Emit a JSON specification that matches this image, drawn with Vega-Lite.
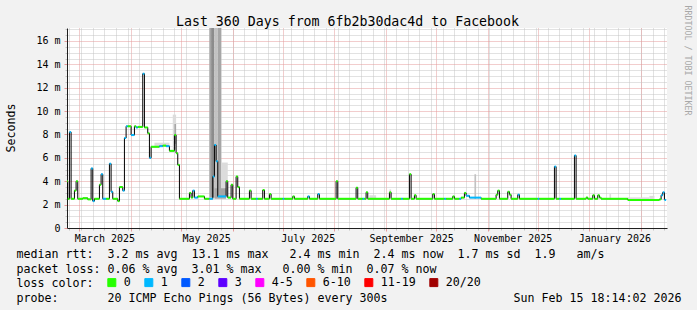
{
  "$schema": "https://vega.github.io/schema/vega-lite/v6.json",
  "width": 600,
  "height": 200,
  "autosize": {"type": "none"},
  "padding": {"left": 67, "top": 28, "right": 30, "bottom": 82},
  "background": "#f2f2f2",
  "title": {
    "text": "Last 360 Days from 6fb2b30dac4d to Facebook",
    "font": "DejaVu Sans Mono",
    "fontSize": 13.25,
    "fontWeight": "normal",
    "color": "#000000",
    "anchor": "middle",
    "frame": "group",
    "dx": -19.5,
    "dy": 17.5,
    "offset": -16.5,
    "baseline": "alphabetic"
  },
  "config": {
    "font": "DejaVu Sans Mono",
    "view": {"stroke": null, "fill": "#ffffff"}
  },
  "datasets": {
    "rtt": [
      {"t": "2025-02-21", "e": "2025-02-22", "v": 4.0, "l": "0"},
      {"t": "2025-02-22", "e": "2025-02-23", "v": 2.5, "l": "0"},
      {"t": "2025-02-23", "e": "2025-02-24", "v": 8.2, "l": "1"},
      {"t": "2025-02-24", "e": "2025-02-26", "v": 2.5, "l": "0"},
      {"t": "2025-02-26", "e": "2025-02-27", "v": 3.2, "l": "0"},
      {"t": "2025-02-27", "e": "2025-02-28", "v": 4.0, "l": "0"},
      {"t": "2025-02-28", "e": "2025-03-03", "v": 2.5, "l": "0"},
      {"t": "2025-03-03", "e": "2025-03-06", "v": 2.55, "l": "0"},
      {"t": "2025-03-06", "e": "2025-03-08", "v": 2.45, "l": "0"},
      {"t": "2025-03-08", "e": "2025-03-09", "v": 5.1, "l": "1"},
      {"t": "2025-03-09", "e": "2025-03-10", "v": 2.3, "l": "1"},
      {"t": "2025-03-10", "e": "2025-03-13", "v": 2.5, "l": "0"},
      {"t": "2025-03-13", "e": "2025-03-14", "v": 3.7, "l": "0"},
      {"t": "2025-03-14", "e": "2025-03-15", "v": 4.6, "l": "1"},
      {"t": "2025-03-15", "e": "2025-03-17", "v": 2.5, "l": "1"},
      {"t": "2025-03-17", "e": "2025-03-19", "v": 2.5, "l": "0"},
      {"t": "2025-03-19", "e": "2025-03-20", "v": 5.5, "l": "1"},
      {"t": "2025-03-20", "e": "2025-03-21", "v": 3.1, "l": "1"},
      {"t": "2025-03-21", "e": "2025-03-24", "v": 2.5, "l": "0"},
      {"t": "2025-03-24", "e": "2025-03-25", "v": 2.3, "l": "0"},
      {"t": "2025-03-25", "e": "2025-03-27", "v": 3.5, "l": "0"},
      {"t": "2025-03-27", "e": "2025-03-28", "v": 3.2, "l": "1"},
      {"t": "2025-03-28", "e": "2025-03-29", "v": 7.7, "l": "1"},
      {"t": "2025-03-29", "e": "2025-03-30", "v": 8.7, "l": "1"},
      {"t": "2025-03-30", "e": "2025-04-01", "v": 8.7, "l": "0"},
      {"t": "2025-04-01", "e": "2025-04-03", "v": 7.95, "l": "1"},
      {"t": "2025-04-03", "e": "2025-04-04", "v": 8.7, "l": "0"},
      {"t": "2025-04-04", "e": "2025-04-05", "v": 8.6, "l": "1"},
      {"t": "2025-04-05", "e": "2025-04-08", "v": 8.65, "l": "0"},
      {"t": "2025-04-08", "e": "2025-04-09", "v": 13.2, "l": "1"},
      {"t": "2025-04-09", "e": "2025-04-11", "v": 8.6, "l": "0"},
      {"t": "2025-04-11", "e": "2025-04-12", "v": 8.1, "l": "0"},
      {"t": "2025-04-12", "e": "2025-04-13", "v": 6.0, "l": "1"},
      {"t": "2025-04-13", "e": "2025-04-18", "v": 6.95, "l": "0"},
      {"t": "2025-04-18", "e": "2025-04-20", "v": 7.0, "l": "1"},
      {"t": "2025-04-20", "e": "2025-04-22", "v": 7.05, "l": "0"},
      {"t": "2025-04-22", "e": "2025-04-24", "v": 7.0, "l": "1"},
      {"t": "2025-04-24", "e": "2025-04-27", "v": 6.6, "l": "0"},
      {"t": "2025-04-27", "e": "2025-04-28", "v": 7.95, "l": "0"},
      {"t": "2025-04-28", "e": "2025-04-29", "v": 6.4, "l": "0"},
      {"t": "2025-04-29", "e": "2025-04-30", "v": 5.4, "l": "0"},
      {"t": "2025-04-30", "e": "2025-05-06", "v": 2.5, "l": "0"},
      {"t": "2025-05-06", "e": "2025-05-07", "v": 3.0, "l": "0"},
      {"t": "2025-05-07", "e": "2025-05-08", "v": 2.6, "l": "0"},
      {"t": "2025-05-08", "e": "2025-05-09", "v": 3.2, "l": "1"},
      {"t": "2025-05-09", "e": "2025-05-11", "v": 2.6, "l": "1"},
      {"t": "2025-05-11", "e": "2025-05-15", "v": 2.7, "l": "0"},
      {"t": "2025-05-15", "e": "2025-05-18", "v": 2.5, "l": "0"},
      {"t": "2025-05-18", "e": "2025-05-20", "v": 2.5, "l": "1"},
      {"t": "2025-05-20", "e": "2025-05-21", "v": 4.4, "l": "1"},
      {"t": "2025-05-21", "e": "2025-05-22", "v": 7.1, "l": "1"},
      {"t": "2025-05-22", "e": "2025-05-23", "v": 5.7, "l": "1"},
      {"t": "2025-05-23", "e": "2025-05-28", "v": 2.7, "l": "1"},
      {"t": "2025-05-28", "e": "2025-05-29", "v": 4.0, "l": "0"},
      {"t": "2025-05-29", "e": "2025-05-31", "v": 2.6, "l": "0"},
      {"t": "2025-05-31", "e": "2025-06-01", "v": 3.7, "l": "0"},
      {"t": "2025-06-01", "e": "2025-06-03", "v": 2.5, "l": "0"},
      {"t": "2025-06-03", "e": "2025-06-04", "v": 4.4, "l": "0"},
      {"t": "2025-06-04", "e": "2025-06-05", "v": 3.5, "l": "0"},
      {"t": "2025-06-05", "e": "2025-06-11", "v": 2.5, "l": "0"},
      {"t": "2025-06-11", "e": "2025-06-12", "v": 3.2, "l": "0"},
      {"t": "2025-06-12", "e": "2025-06-15", "v": 2.5, "l": "0"},
      {"t": "2025-06-15", "e": "2025-06-16", "v": 2.5, "l": "1"},
      {"t": "2025-06-16", "e": "2025-06-19", "v": 2.5, "l": "0"},
      {"t": "2025-06-19", "e": "2025-06-20", "v": 3.25, "l": "0"},
      {"t": "2025-06-20", "e": "2025-06-23", "v": 2.5, "l": "0"},
      {"t": "2025-06-23", "e": "2025-06-24", "v": 2.9, "l": "0"},
      {"t": "2025-06-24", "e": "2025-07-01", "v": 2.5, "l": "0"},
      {"t": "2025-07-01", "e": "2025-07-02", "v": 2.5, "l": "1"},
      {"t": "2025-07-02", "e": "2025-07-07", "v": 2.5, "l": "0"},
      {"t": "2025-07-07", "e": "2025-07-08", "v": 2.7, "l": "0"},
      {"t": "2025-07-08", "e": "2025-07-16", "v": 2.5, "l": "0"},
      {"t": "2025-07-16", "e": "2025-07-17", "v": 2.7, "l": "1"},
      {"t": "2025-07-17", "e": "2025-07-22", "v": 2.5, "l": "0"},
      {"t": "2025-07-22", "e": "2025-07-23", "v": 2.9, "l": "1"},
      {"t": "2025-07-23", "e": "2025-08-02", "v": 2.5, "l": "0"},
      {"t": "2025-08-02", "e": "2025-08-03", "v": 4.0, "l": "0"},
      {"t": "2025-08-03", "e": "2025-08-14", "v": 2.5, "l": "0"},
      {"t": "2025-08-14", "e": "2025-08-15", "v": 3.45, "l": "0"},
      {"t": "2025-08-15", "e": "2025-08-18", "v": 2.5, "l": "0"},
      {"t": "2025-08-18", "e": "2025-08-19", "v": 2.5, "l": "1"},
      {"t": "2025-08-19", "e": "2025-08-20", "v": 2.5, "l": "0"},
      {"t": "2025-08-20", "e": "2025-08-21", "v": 3.05, "l": "0"},
      {"t": "2025-08-21", "e": "2025-09-03", "v": 2.5, "l": "0"},
      {"t": "2025-09-03", "e": "2025-09-04", "v": 3.05, "l": "0"},
      {"t": "2025-09-04", "e": "2025-09-10", "v": 2.5, "l": "0"},
      {"t": "2025-09-10", "e": "2025-09-11", "v": 2.5, "l": "1"},
      {"t": "2025-09-11", "e": "2025-09-15", "v": 2.5, "l": "0"},
      {"t": "2025-09-15", "e": "2025-09-16", "v": 4.6, "l": "0"},
      {"t": "2025-09-16", "e": "2025-09-18", "v": 2.5, "l": "0"},
      {"t": "2025-09-18", "e": "2025-09-19", "v": 2.8, "l": "0"},
      {"t": "2025-09-19", "e": "2025-09-29", "v": 2.5, "l": "0"},
      {"t": "2025-09-29", "e": "2025-09-30", "v": 2.9, "l": "0"},
      {"t": "2025-09-30", "e": "2025-10-06", "v": 2.5, "l": "0"},
      {"t": "2025-10-06", "e": "2025-10-07", "v": 2.5, "l": "1"},
      {"t": "2025-10-07", "e": "2025-10-11", "v": 2.5, "l": "0"},
      {"t": "2025-10-11", "e": "2025-10-12", "v": 2.7, "l": "0"},
      {"t": "2025-10-12", "e": "2025-10-15", "v": 2.5, "l": "0"},
      {"t": "2025-10-15", "e": "2025-10-16", "v": 2.5, "l": "1"},
      {"t": "2025-10-16", "e": "2025-10-18", "v": 2.6, "l": "0"},
      {"t": "2025-10-18", "e": "2025-10-19", "v": 3.0, "l": "0"},
      {"t": "2025-10-19", "e": "2025-10-21", "v": 2.76, "l": "1"},
      {"t": "2025-10-21", "e": "2025-10-28", "v": 2.6, "l": "1"},
      {"t": "2025-10-28", "e": "2025-11-06", "v": 2.5, "l": "0"},
      {"t": "2025-11-06", "e": "2025-11-07", "v": 2.85, "l": "0"},
      {"t": "2025-11-07", "e": "2025-11-08", "v": 3.2, "l": "0"},
      {"t": "2025-11-08", "e": "2025-11-13", "v": 2.5, "l": "0"},
      {"t": "2025-11-13", "e": "2025-11-14", "v": 3.1, "l": "0"},
      {"t": "2025-11-14", "e": "2025-11-15", "v": 2.85, "l": "0"},
      {"t": "2025-11-15", "e": "2025-11-19", "v": 2.5, "l": "0"},
      {"t": "2025-11-19", "e": "2025-11-20", "v": 2.85, "l": "1"},
      {"t": "2025-11-20", "e": "2025-12-01", "v": 2.5, "l": "0"},
      {"t": "2025-12-01", "e": "2025-12-02", "v": 2.5, "l": "1"},
      {"t": "2025-12-02", "e": "2025-12-11", "v": 2.5, "l": "0"},
      {"t": "2025-12-11", "e": "2025-12-12", "v": 5.25, "l": "1"},
      {"t": "2025-12-12", "e": "2025-12-14", "v": 2.5, "l": "0"},
      {"t": "2025-12-14", "e": "2025-12-15", "v": 2.5, "l": "1"},
      {"t": "2025-12-15", "e": "2025-12-23", "v": 2.5, "l": "0"},
      {"t": "2025-12-23", "e": "2025-12-24", "v": 6.2, "l": "1"},
      {"t": "2025-12-24", "e": "2025-12-30", "v": 2.5, "l": "0"},
      {"t": "2025-12-30", "e": "2025-12-31", "v": 2.6, "l": "0"},
      {"t": "2025-12-31", "e": "2026-01-03", "v": 2.5, "l": "0"},
      {"t": "2026-01-03", "e": "2026-01-04", "v": 2.8, "l": "0"},
      {"t": "2026-01-04", "e": "2026-01-06", "v": 2.5, "l": "0"},
      {"t": "2026-01-06", "e": "2026-01-07", "v": 2.8, "l": "0"},
      {"t": "2026-01-07", "e": "2026-01-08", "v": 2.6, "l": "0"},
      {"t": "2026-01-08", "e": "2026-01-24", "v": 2.5, "l": "0"},
      {"t": "2026-01-24", "e": "2026-02-12", "v": 2.4, "l": "0"},
      {"t": "2026-02-12", "e": "2026-02-13", "v": 2.45, "l": "0"},
      {"t": "2026-02-13", "e": "2026-02-14", "v": 2.8, "l": "1"},
      {"t": "2026-02-14", "e": "2026-02-15", "v": 3.05, "l": "1"},
      {"t": "2026-02-15", "e": "2026-02-16", "v": 2.4, "l": "1"}
    ],
    "smoke": [
      {"t": "2025-04-15", "e": "2025-04-24", "lo": 6.95, "hi": 7.3, "band": "a"},
      {"t": "2025-04-26", "e": "2025-04-28", "lo": 6.7, "hi": 9.7, "band": "a"},
      {"t": "2025-04-27", "e": "2025-04-28", "lo": 7.2, "hi": 8.9, "band": "c"},
      {"t": "2025-05-18", "e": "2025-05-19", "lo": 2.6, "hi": 18, "band": "c"},
      {"t": "2025-05-19", "e": "2025-05-21", "lo": 2.6, "hi": 18, "band": "d"},
      {"t": "2025-05-21", "e": "2025-05-23", "lo": 2.6, "hi": 18, "band": "b"},
      {"t": "2025-05-23", "e": "2025-05-25", "lo": 2.6, "hi": 18, "band": "c"},
      {"t": "2025-05-25", "e": "2025-05-29", "lo": 2.6, "hi": 5.6, "band": "a"},
      {"t": "2025-05-21", "e": "2025-05-28", "lo": 2.5, "hi": 3.4, "band": "c"},
      {"t": "2025-08-22", "e": "2025-08-26", "lo": 2.5, "hi": 2.8, "band": "a"},
      {"t": "2025-09-03", "e": "2025-09-04", "lo": 2.6, "hi": 3.3, "band": "a"},
      {"t": "2025-10-24", "e": "2025-10-25", "lo": 2.5, "hi": 4.6, "band": "b"},
      {"t": "2026-01-13", "e": "2026-01-14", "lo": 2.5, "hi": 2.9, "band": "a"},
      {"t": "2026-01-24", "e": "2026-02-06", "lo": 2.4, "hi": 2.62, "band": "a"},
      {"t": "2026-02-06", "e": "2026-02-09", "lo": 2.4, "hi": 2.75, "band": "a"}
    ]
  },
  "layer": [
    {
      "data": {"name": "smoke"},
      "mark": {"type": "rect", "clip": true},
      "encoding": {
        "x": {
          "field": "t", "type": "temporal",
          "scale": {"type": "utc", "domain": [{"year": 2025, "month": 2, "date": 21, "hours": 13, "utc": true}, {"year": 2026, "month": 2, "date": 16, "hours": 13, "utc": true}], "nice": false},
          "axis": {"orient": "bottom", "tickCount": {"interval": "week", "step": 1}, "grid": true, "gridColor": "#c4c4c4", "gridDash": [1, 1], "gridWidth": 1, "labels": false, "ticks": true, "tickColor": "#c4c4c4", "tickSize": 2, "domain": false, "title": null}
        },
        "x2": {"field": "e"},
        "y": {
          "field": "lo", "type": "quantitative",
          "scale": {"domain": [0, 17.11], "nice": false, "zero": true},
          "axis": {"orient": "left", "values": [0.5, 1, 1.5, 2.5, 3, 3.5, 4.5, 5, 5.5, 6.5, 7, 7.5, 8.5, 9, 9.5, 10.5, 11, 11.5, 12.5, 13, 13.5, 14.5, 15, 15.5, 16.5, 17], "grid": true, "gridColor": "#c4c4c4", "gridDash": [1, 1], "gridWidth": 1, "labels": false, "ticks": true, "tickColor": "#c4c4c4", "tickSize": 2, "domain": false, "title": null}
        },
        "y2": {"field": "hi"},
        "fill": {"field": "band", "type": "nominal", "scale": {"domain": ["a", "b", "c", "d"], "range": ["#dcdcdc", "#c2c2c2", "#a6a6a6", "#8c8c8c"]}, "legend": null}
      }
    },
    {
      "data": {"name": "rtt"},
      "mark": {"type": "line", "interpolate": "step-after", "color": "#000000", "strokeWidth": 1, "clip": true},
      "encoding": {
        "x": {
          "field": "t", "type": "temporal",
          "scale": {"type": "utc", "domain": [{"year": 2025, "month": 2, "date": 21, "hours": 13, "utc": true}, {"year": 2026, "month": 2, "date": 16, "hours": 13, "utc": true}], "nice": false},
          "axis": {"orient": "bottom", "tickCount": {"interval": "month", "step": 1}, "grid": true, "gridColor": "#e59a9a", "gridDash": [1, 1], "gridWidth": 1, "labels": false, "ticks": true, "tickColor": "#e59a9a", "tickSize": 3, "domain": true, "domainColor": "#1f1f1f", "domainWidth": 1, "title": null}
        },
        "y": {
          "field": "v", "type": "quantitative",
          "scale": {"domain": [0, 17.11], "nice": false, "zero": true},
          "axis": {
            "orient": "left",
            "values": [0, 2, 4, 6, 8, 10, 12, 14, 16],
            "grid": true, "gridColor": "#e59a9a", "gridDash": [1, 1], "gridWidth": 1,
            "ticks": true, "tickColor": "#e59a9a", "tickSize": 3,
            "domain": true, "domainColor": "#1f1f1f", "domainWidth": 1,
            "labelExpr": "datum.value == 0 ? '0' : datum.value + ' m'",
            "labelFont": "DejaVu Sans Mono", "labelFontSize": 10, "labelColor": "#000000", "labelPadding": 4,
            "title": "Seconds", "titleFont": "DejaVu Sans Mono", "titleFontSize": 11.63, "titleFontWeight": "normal", "titleColor": "#000000",
            "titleAngle": 270, "titleX": -52.7, "titleY": 99.5, "titleAlign": "center", "titleBaseline": "alphabetic"
          }
        }
      }
    },
    {
      "data": {"name": "rtt"},
      "mark": {"type": "rule", "strokeWidth": 2, "strokeCap": "butt", "clip": true},
      "encoding": {
        "x": {
          "field": "t", "type": "temporal",
          "scale": {"type": "utc", "domain": [{"year": 2025, "month": 2, "date": 21, "hours": 13, "utc": true}, {"year": 2026, "month": 2, "date": 16, "hours": 13, "utc": true}], "nice": false},
          "axis": {
            "orient": "bottom",
            "values": [{"year": 2025, "month": 3, "date": 16, "utc": true}, {"year": 2025, "month": 5, "date": 16, "utc": true}, {"year": 2025, "month": 7, "date": 16, "utc": true}, {"year": 2025, "month": 9, "date": 16, "utc": true}, {"year": 2025, "month": 11, "date": 16, "utc": true}, {"year": 2026, "month": 1, "date": 16, "utc": true}],
            "format": "%B %Y",
            "grid": false, "ticks": false, "domain": false,
            "labelFont": "DejaVu Sans Mono", "labelFontSize": 10, "labelColor": "#000000", "labelPadding": 13, "labelBaseline": "alphabetic", "labelFlush": false, "labelOverlap": false,
            "title": [
              "median\u00a0rtt:\u00a0\u00a03.2\u00a0ms\u00a0avg\u00a0\u00a013.1\u00a0ms\u00a0max\u00a0\u00a0\u00a02.4\u00a0ms\u00a0min\u00a0\u00a02.4\u00a0ms\u00a0now\u00a0\u00a01.7\u00a0ms\u00a0sd\u00a0\u00a01.9\u00a0\u00a0\u00a0am/s",
              "packet\u00a0loss:\u00a00.06\u00a0%\u00a0avg\u00a0\u00a03.01\u00a0%\u00a0max\u00a0\u00a0\u00a00.00\u00a0%\u00a0min\u00a0\u00a00.07\u00a0%\u00a0now",
              "loss\u00a0color:",
              "probe:\u00a0\u00a0\u00a0\u00a0\u00a0\u00a0\u00a020\u00a0ICMP\u00a0Echo\u00a0Pings\u00a0(56\u00a0Bytes)\u00a0every\u00a0300s\u00a0\u00a0\u00a0\u00a0\u00a0\u00a0\u00a0\u00a0\u00a0\u00a0\u00a0\u00a0\u00a0\u00a0\u00a0\u00a0\u00a0\u00a0Sun\u00a0Feb\u00a015\u00a018:14:02\u00a02026"
            ],
            "titleFont": "DejaVu Sans Mono", "titleFontSize": 11.63, "titleFontWeight": "normal", "titleColor": "#000000",
            "titleX": -51, "titleY": 29.5, "titleAlign": "left", "titleBaseline": "alphabetic", "titleLineHeight": 14.5
          }
        },
        "x2": {"field": "e"},
        "y": {
          "field": "v", "type": "quantitative",
          "scale": {"domain": [0, 17.11], "nice": false, "zero": true},
          "axis": {
            "orient": "right", "labels": false, "ticks": false, "domain": false, "grid": false,
            "title": "RRDTOOL / TOBI OETIKER", "titleFont": "DejaVu Sans Mono", "titleFontSize": 8.3, "titleFontWeight": "normal", "titleColor": "#a8a8a8",
            "titleAngle": 90, "titleX": 17, "titleY": 32, "titleAlign": "center", "titleBaseline": "alphabetic"
          }
        },
        "color": {
          "field": "l", "type": "nominal",
          "scale": {"domain": ["0", "1", "2", "3", "4-5", "6-10", "11-19", "20/20"], "range": ["#26ff00", "#00b8ff", "#0059ff", "#5e00ff", "#ff00ff", "#ff5500", "#ff0000", "#a10000"]},
          "legend": {
            "orient": "none", "legendX": 39, "legendY": 248.7, "direction": "horizontal",
            "title": null,
            "labelFont": "DejaVu Sans Mono", "labelFontSize": 11.63, "labelColor": "#000000", "labelOffset": 6,
            "columnPadding": 11, "symbolType": "square", "symbolSize": 64, "symbolStrokeWidth": 1, "padding": 0,
            "encode": {"symbols": {"update": {"fill": {"scale": "color", "field": "value"}, "stroke": {"value": "#000000"}, "strokeWidth": {"value": 1}, "opacity": {"value": 1}}}}
          }
        }
      }
    }
  ],
  "resolve": {"axis": {"x": "independent", "y": "independent"}}
}
